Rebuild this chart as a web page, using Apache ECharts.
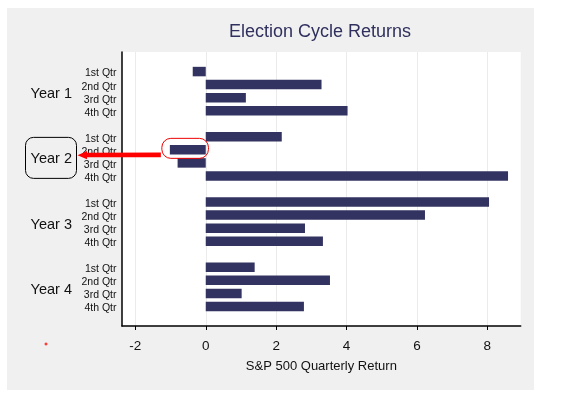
<!DOCTYPE html>
<html><head><meta charset="utf-8">
<script src="https://cdn.jsdelivr.net/npm/echarts@6/dist/echarts.min.js"></script>
<style>
html,body{margin:0;padding:0;background:#fff;}
#wrap{position:relative;width:571px;height:410px;}
#bg{position:absolute;left:7px;top:8px;width:527px;height:382px;background:#f0f0f0;}
#chart{position:absolute;left:0;top:0;width:571px;height:410px;}
</style></head><body>
<div id="wrap"><div id="bg"></div><div id="chart"></div></div>
<script>
const years = ['Year 1', 'Year 2', 'Year 3', 'Year 4'];
const quarters = ['1st Qtr', '2nd Qtr', '3rd Qtr', '4th Qtr'];
const year1 = [-0.37, 3.29, 1.14, 4.03];
const year2 = [2.16, -1.02, -0.80, 8.59];
const year3 = [8.05, 6.23, 2.82, 3.33];
const year4 = [1.39, 3.53, 1.02, 2.79];
const xTicks = [-2, 0, 2, 4, 6, 8];
const xMin = -2.38, xMax = 8.95;
const titleText = 'Election Cycle Returns';
const xName = 'S&P 500 Quarterly Return';

const yearValues = [year1, year2, year3, year4];
const catKeys = [], catLabels = [], values = [];
catKeys.push('gap0'); catLabels.push(''); values.push('-');
yearValues.forEach((arr, yi) => {
  arr.forEach((v, qi) => {
    catKeys.push('y' + yi + 'q' + qi); catLabels.push(quarters[qi]); values.push(v);
  });
  catKeys.push('gap' + (yi + 1)); catLabels.push(''); values.push('-');
});
const yearKeys = [], yearLabels = [];
for (let i = 0; i <= 42; i++) { yearKeys.push('h' + i); yearLabels.push(''); }
years.forEach((y, i) => { yearLabels[6 + 10 * i] = y; });

const FONT = 'Liberation Sans, Arial, sans-serif';
const chart = echarts.init(document.getElementById('chart'), null, {renderer: 'canvas'});
chart.setOption({
  backgroundColor: 'transparent',
  animation: false,
  title: {
    text: titleText, left: 229, top: 23, padding: 0,
    textStyle: {fontFamily: FONT, fontSize: 18, fontWeight: 'normal', color: '#30305e'}
  },
  grid: {left: 122, right: 50.3, top: 52, bottom: 84, show: true, backgroundColor: '#ffffff', borderWidth: 0},
  xAxis: {
    type: 'value', min: xMin, max: xMax,
    name: xName, nameLocation: 'middle', nameGap: 34,
    nameTextStyle: {fontFamily: FONT, fontSize: 13, color: '#111'},
    axisLine: {show: true, onZero: false, lineStyle: {color: '#000', width: 1.5}},
    axisTick: {show: true, length: 4, customValues: xTicks, lineStyle: {color: '#000'}},
    axisLabel: {customValues: xTicks, fontFamily: FONT, fontSize: 13.5, color: '#111', margin: 13},
    splitLine: {show: true, lineStyle: {color: '#ebebeb', width: 1}}
  },
  yAxis: [{
    type: 'category', inverse: true, data: catKeys,
    axisLine: {show: true, onZero: false, lineStyle: {color: '#000', width: 1.5}},
    axisTick: {show: false},
    axisLabel: {interval: 0, margin: 5.5,
      formatter: (v, idx) => catLabels[idx] ? '{q|' + catLabels[idx] + '}' : '',
      rich: {q: {fontFamily: FONT, fontSize: 10.5, color: '#111', padding: [4, 0, 0, 0]}}},
    splitLine: {show: false}
  }, {
    type: 'category', inverse: true, position: 'left', boundaryGap: false, data: yearKeys,
    axisLine: {show: false, onZero: false}, axisTick: {show: false}, splitLine: {show: false},
    axisLabel: {interval: 0, margin: 50,
      formatter: (v, idx) => yearLabels[idx] ? '{y|' + yearLabels[idx] + '}' : '',
      rich: {y: {fontFamily: FONT, fontSize: 14.5, color: '#111', padding: [6, 0, 0, 0]}}}
  }],
  series: [{
    type: 'bar', data: values, barWidth: 9.5,
    itemStyle: {color: '#333361'}
  }]
});

// annotations tied to chart coordinates
const barKey = 'y1q1';
const barVal = year2[1];
const cy = chart.convertToPixel({yAxisIndex: 0}, barKey);
const x0 = chart.convertToPixel({xAxisIndex: 0}, 0);
const xb = chart.convertToPixel({xAxisIndex: 0}, barVal);
const yc = chart.convertToPixel({yAxisIndex: 1}, 'h16') + 2;
const ac = cy + 5;
chart.setOption({
  graphic: [
    {type: 'rect', z: 100, shape: {x: 25.5, y: yc - 21, width: 51, height: 41, r: 8},
      style: {fill: 'none', stroke: '#000', lineWidth: 1}},
    {type: 'rect', z: 100, shape: {x: xb - 8, y: cy - 11.5, width: (x0 + 2.7) - (xb - 8), height: 20, r: 9},
      style: {fill: 'none', stroke: '#ee0000', lineWidth: 1}},
    {type: 'polygon', z: 100, shape: {points: [
      [xb - 9, ac - 2.4], [87, ac - 2.0], [87, ac - 3.8], [77.5, ac + 0.3],
      [87, ac + 4.3], [87, ac + 2.4], [xb - 9, ac + 2.4]
    ]}, style: {fill: '#ff0000'}},
    {type: 'line', z: 100, shape: {x1: 44.5, y1: 344, x2: 47.5, y2: 344}, style: {stroke: '#ff0000', lineWidth: 1}},
    {type: 'line', z: 100, shape: {x1: 46, y1: 342.5, x2: 46, y2: 345.5}, style: {stroke: '#ff0000', lineWidth: 1}}
  ]
});
</script>
</body></html>
